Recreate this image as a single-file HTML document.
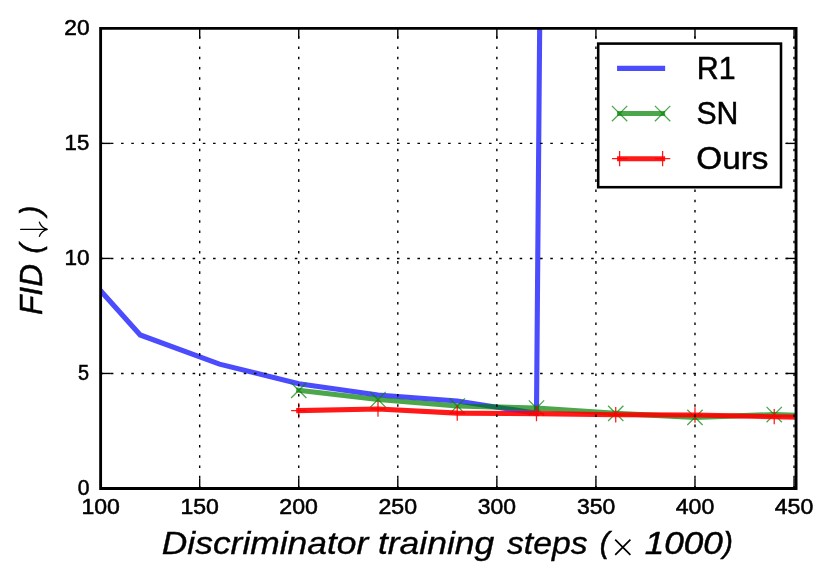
<!DOCTYPE html>
<html lang="en">
<head>
<meta charset="utf-8">
<title>FID vs discriminator training steps</title>
<style>
html,body{margin:0;padding:0;background:#ffffff;}
body{width:832px;height:583px;overflow:hidden;font-family:"Liberation Sans",sans-serif;}
svg{display:block;will-change:transform;}
text{font-family:"Liberation Sans",sans-serif;fill:#000000;font-kerning:none;}
.tick{font-size:22.5px;stroke:#000000;stroke-width:0.55px;}
.big{font-size:31.5px;stroke:#000000;stroke-width:0.5px;}
.par{font-size:29.6px;}
.it{font-style:italic;}
.grid{stroke:#000000;stroke-width:1.4;stroke-dasharray:2.56 7.66;fill:none;}
.tk{stroke:#000000;stroke-width:1.4;fill:none;}
.ln{fill:none;stroke-width:5.11;stroke-linejoin:miter;stroke-linecap:square;}
.mk{fill:none;stroke-width:1.28;}
.b{stroke:#0000ff;stroke-opacity:0.7;}
.g{stroke:#008000;stroke-opacity:0.7;}
.r{stroke:#ff0000;stroke-opacity:0.9;}
</style>
</head>
<body>
<svg width="832" height="583" viewBox="0 0 832 583" role="img" aria-label="FID versus discriminator training steps">
<rect x="0" y="0" width="832" height="583" fill="#ffffff"/>
<defs>
<clipPath id="ax"><rect x="100.62" y="28.35" width="695.58" height="460.15"/></clipPath>
</defs>
<g clip-path="url(#ax)">
<polyline class="ln b" points="100.62,290.82 140.24,334.97 219.49,364.17 298.74,383.71 377.99,394.98 457.24,400.96 536.48,413.37 539.9,0"/>
<polyline class="ln g" points="298.74,390.38 377.99,399.58 457.24,406.02 536.48,408.09 615.73,413.37 694.98,417.4 774.23,414.52 853.48,417.28"/>
<path class="mk g" d="M291.07 382.72L306.41 398.05M291.07 398.05L306.41 382.72M370.32 391.91L385.65 407.25M370.32 407.25L385.65 391.91M449.57 398.35L464.9 413.68M449.57 413.68L464.9 398.35M528.82 400.42L544.15 415.75M528.82 415.75L544.15 400.42M608.07 405.71L623.4 421.04M608.07 421.04L623.4 405.71M687.31 409.73L702.65 425.06M687.31 425.06L702.65 409.73M766.56 406.86L781.89 422.19M766.56 422.19L781.89 406.86"/>
<polyline class="ln r" points="298.74,410.62 377.99,409.01 457.24,413.14 536.48,413.6 615.73,414.75 694.98,414.98 774.23,416.71 853.48,417.97"/>
<path class="mk r" d="M291.07 410.62L306.41 410.62M298.74 402.95L298.74 418.28M370.32 409.01L385.65 409.01M377.99 401.34L377.99 416.67M449.57 413.14L464.9 413.14M457.24 405.48L457.24 420.81M528.82 413.6L544.15 413.6M536.48 405.94L536.48 421.27M608.07 414.75L623.4 414.75M615.73 407.09L615.73 422.42M687.31 414.98L702.65 414.98M694.98 407.32L694.98 422.65M766.56 416.71L781.89 416.71M774.23 409.04L774.23 424.37"/>
</g>
<g class="grid">
<line x1="199.68" y1="488.5" x2="199.68" y2="28.35"/>
<line x1="298.74" y1="488.5" x2="298.74" y2="28.35"/>
<line x1="397.8" y1="488.5" x2="397.8" y2="28.35"/>
<line x1="496.86" y1="488.5" x2="496.86" y2="28.35"/>
<line x1="595.92" y1="488.5" x2="595.92" y2="28.35"/>
<line x1="694.98" y1="488.5" x2="694.98" y2="28.35"/>
<line x1="794.04" y1="488.5" x2="794.04" y2="28.35"/>
<line x1="100.62" y1="373.46" x2="796.2" y2="373.46"/>
<line x1="100.62" y1="258.43" x2="796.2" y2="258.43"/>
<line x1="100.62" y1="143.39" x2="796.2" y2="143.39"/>
</g>
<g class="tk">
<line x1="100.62" y1="488.5" x2="100.62" y2="478.28"/>
<line x1="100.62" y1="28.35" x2="100.62" y2="38.57"/>
<line x1="199.68" y1="488.5" x2="199.68" y2="478.28"/>
<line x1="199.68" y1="28.35" x2="199.68" y2="38.57"/>
<line x1="298.74" y1="488.5" x2="298.74" y2="478.28"/>
<line x1="298.74" y1="28.35" x2="298.74" y2="38.57"/>
<line x1="397.8" y1="488.5" x2="397.8" y2="478.28"/>
<line x1="397.8" y1="28.35" x2="397.8" y2="38.57"/>
<line x1="496.86" y1="488.5" x2="496.86" y2="478.28"/>
<line x1="496.86" y1="28.35" x2="496.86" y2="38.57"/>
<line x1="595.92" y1="488.5" x2="595.92" y2="478.28"/>
<line x1="595.92" y1="28.35" x2="595.92" y2="38.57"/>
<line x1="694.98" y1="488.5" x2="694.98" y2="478.28"/>
<line x1="694.98" y1="28.35" x2="694.98" y2="38.57"/>
<line x1="794.04" y1="488.5" x2="794.04" y2="478.28"/>
<line x1="794.04" y1="28.35" x2="794.04" y2="38.57"/>
<line x1="100.62" y1="488.5" x2="110.84" y2="488.5"/>
<line x1="796.2" y1="488.5" x2="785.98" y2="488.5"/>
<line x1="100.62" y1="373.46" x2="110.84" y2="373.46"/>
<line x1="796.2" y1="373.46" x2="785.98" y2="373.46"/>
<line x1="100.62" y1="258.43" x2="110.84" y2="258.43"/>
<line x1="796.2" y1="258.43" x2="785.98" y2="258.43"/>
<line x1="100.62" y1="143.39" x2="110.84" y2="143.39"/>
<line x1="796.2" y1="143.39" x2="785.98" y2="143.39"/>
<line x1="100.62" y1="28.35" x2="110.84" y2="28.35"/>
<line x1="796.2" y1="28.35" x2="785.98" y2="28.35"/>
</g>
<path fill="#000000" fill-rule="evenodd" d="M99.2 27H797.5V489.95H99.2ZM102.05 29.7V487.05H794.6V29.7Z"/>
<g class="tick">
<text class="tick" transform="translate(81.41 514.2) scale(1.0249 1)">100</text>
<text class="tick" transform="translate(180.47 514.2) scale(1.0249 1)">150</text>
<text class="tick" transform="translate(279.35 514.2) scale(1.0297 1)">200</text>
<text class="tick" transform="translate(378.41 514.2) scale(1.0297 1)">250</text>
<text class="tick" transform="translate(477.82 514.2) scale(1.0202 1)">300</text>
<text class="tick" transform="translate(576.88 514.2) scale(1.0202 1)">350</text>
<text class="tick" transform="translate(675.72 514.2) scale(1.0264 1)">400</text>
<text class="tick" transform="translate(774.78 514.2) scale(1.0264 1)">450</text>
<text class="tick" transform="translate(77.86 495) scale(0.9360 1)">0</text>
<text class="tick" transform="translate(78.1 379.96) scale(0.8830 1)">5</text>
<text class="tick" transform="translate(64.54 264.93) scale(1.0016 1)">10</text>
<text class="tick" transform="translate(64.57 149.89) scale(0.9852 1)">15</text>
<text class="tick" transform="translate(64.35 34.85) scale(1.0095 1)">20</text>
</g>
<g class="big it">
<text class="big it" style="stroke-width:0.35px" transform="translate(161.81 554.1) scale(1.1237 1)">Discriminator</text>
<text class="big it" style="stroke-width:0.35px" transform="translate(377.89 554.1) scale(1.1270 1)">training</text>
<text class="big it" style="stroke-width:0.35px" transform="translate(507 554.1) scale(1.0692 1)">steps</text>
<text class="big it par" transform="translate(599.78 552.9) scale(0.9852 1)">(</text>
<text class="big it" style="stroke-width:0.5px" transform="translate(644.77 554.1) scale(1.1151 1)">1000</text>
<text class="big it par" transform="translate(723.35 552.9) scale(0.9765 1)">)</text>
</g>
<path d="M615.2 539.6L630.4 554.8M615.2 554.8L630.4 539.6" stroke="#000000" stroke-width="1.7" fill="none"><title>×</title></path>
<g transform="translate(41.9 0) rotate(-90)">
<text class="big it" transform="translate(-314.92 0) scale(1.0029 1)">FID</text>
<text class="big it par" transform="translate(-253.62 -1.3) scale(0.9852 1)">(</text>
<text class="big it par" transform="translate(-215.57 -1.3) scale(1.0026 1)">)</text>
</g>
<g fill="none" stroke="#000000" stroke-width="1.3" stroke-linecap="round"><title>↓</title>
<path d="M20.6 229.3L47 229.3"/>
<path d="M39.4 222.2C40.6 225.6 43.4 228.3 47.4 229.3C43.4 230.3 40.6 233 39.4 236.4"/>
</g>
<rect x="598.2" y="43.6" width="182.8" height="143.6" fill="#ffffff" stroke="#000000" stroke-width="2.56"/>
<line class="ln b" x1="619.6" y1="68.4" x2="662.6" y2="68.4"/>
<line class="ln g" x1="619.6" y1="113.55" x2="662.6" y2="113.55"/>
<path class="mk g" d="M611.93 105.88L627.27 121.22M611.93 121.22L627.27 105.88M654.93 105.88L670.27 121.22M654.93 121.22L670.27 105.88"/>
<line class="ln r" x1="619.6" y1="158.7" x2="662.6" y2="158.7"/>
<path class="mk r" d="M611.93 158.7L627.27 158.7M619.6 151.03L619.6 166.37M654.93 158.7L670.27 158.7M662.6 151.03L662.6 166.37"/>
<text class="big" transform="translate(696.75 79) scale(0.9633 1)">R1</text>
<text class="big" transform="translate(696.47 124.2) scale(0.9588 1)">SN</text>
<text class="big" transform="translate(696.29 169.2) scale(1.0555 1)">Ours</text>
</svg>
</body>
</html>
